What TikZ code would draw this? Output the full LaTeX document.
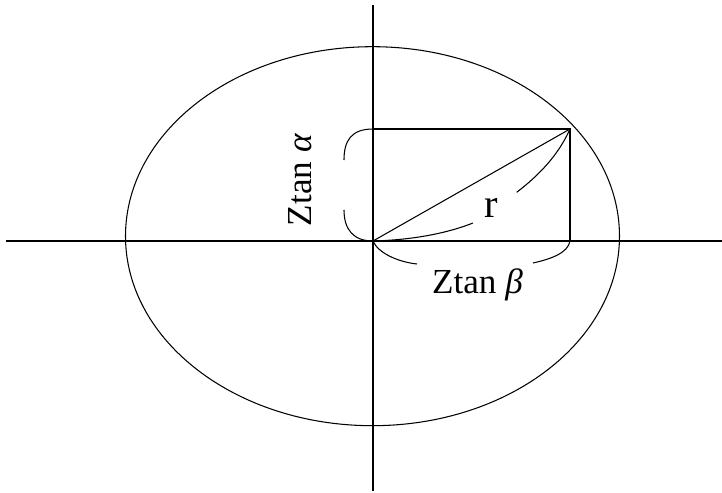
\documentclass[tikz,border=0pt]{standalone}
\usepackage{fontspec}
\setmainfont{Liberation Serif}
\usetikzlibrary{positioning}

\begin{document}
\begin{tikzpicture}[
  x=0.2mm, y=0.2mm,
  every node/.style={font=\fontsize{20}{24}\selectfont},
  ln/.style={line width=0.6pt},
  lbl/.style={inner sep=1pt}
]
\useasboundingbox (-373,241) rectangle (349,-252);
\coordinate (O) at (0,0);
\coordinate (P) at (197,112);
\coordinate (xl) at (-367,0);
\coordinate (xr) at (349,0);
\coordinate (yt) at (0,236);
\coordinate (yb) at (0,-250);
% axes and ellipse
\draw[ln] (xl) -- (xr);
\draw[ln] (yb) -- (yt);
\draw[ln] (-0.5,4.8) ellipse [x radius=247, y radius=189.5];
% rectangle and diagonal
\draw[ln] (O |- P) -- (P) -- (O -| P);
\draw[ln] (O) -- (P);
% left brace
\coordinate (la) at (-29,81);
\coordinate (lb) at (-29,31);
\draw[ln] (O |- P) .. controls (-22,112) and (-29,100) .. (la);
\draw[ln] (lb) .. controls (-29,12) and (-20,0) .. (O);
% bottom brace
\coordinate (ba) at (44,-23);
\coordinate (bb) at (160,-22);
\draw[ln] (O) .. controls (5,-12) and (25,-21) .. (ba);
\draw[ln] (bb) .. controls (178,-18) and (195,-12) .. (O -| P);
% arc r
\coordinate (ra) at (100,18);
\coordinate (rb) at (143.7,48.7);
\draw[ln] (O) .. controls (40,1) and (75,8) .. (ra);
\draw[ln] (rb) .. controls (165,65) and (185,85) .. (P);
% labels
\node[lbl, rotate=90] (za) at (-73,61) {Ztan \textit{α}};
\node[lbl] (zb) at (104.5,-44) {Ztan \textit{β}};
\node[lbl, font=\fontsize{23}{26}\selectfont] (r) at (118.5,33) {r};
\end{tikzpicture}
\end{document}
